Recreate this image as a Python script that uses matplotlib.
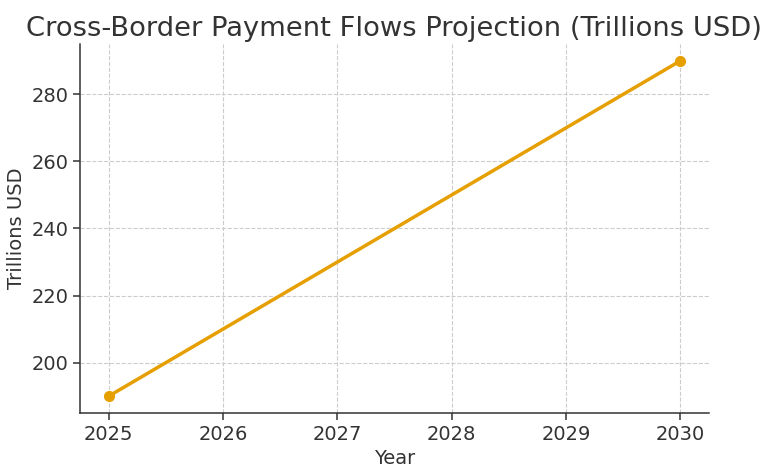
import matplotlib
matplotlib.use('Agg')
import matplotlib.pyplot as plt

years = [2025, 2030]
flows = [190, 290]

plt.rcParams['font.family'] = ['DejaVu Sans']
text_color = '#333333'

fig = plt.figure(figsize=(7.71, 4.71), dpi=100)
ax = fig.add_axes([80/771, 1 - 413/471, (709-80)/771, (413-44)/471])

ax.plot(years, flows, color='#E69F00', lw=2.5, marker='o', markersize=7)

ax.set_title('Cross-Border Payment Flows Projection (Trillions USD)',
             fontsize=19.7, color=text_color, pad=6)
ax.set_xlabel('Year', fontsize=14, color=text_color)
ax.set_ylabel('Trillions USD', fontsize=14, color=text_color)
ax.set_xticks(range(2025, 2031))
ax.tick_params(labelsize=14, colors=text_color, length=5, width=1.1)
ax.grid(True, linestyle='--', color='#cccccc', lw=0.8)
ax.spines['top'].set_visible(False)
ax.spines['right'].set_visible(False)
for s in ('left', 'bottom'):
    ax.spines[s].set_color('#333333')
    ax.spines[s].set_linewidth(1.1)

fig.savefig('out.png', dpi=100)
